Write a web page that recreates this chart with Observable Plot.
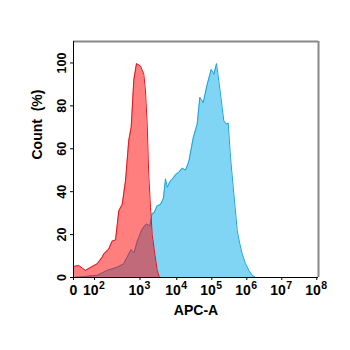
<!DOCTYPE html>
<html><head><meta charset="utf-8">
<script src="https://cdn.jsdelivr.net/npm/d3@7"></script>
<script src="https://cdn.jsdelivr.net/npm/@observablehq/plot@0.6"></script>
<style>body{margin:0;background:#fff;}</style>
</head><body><div id="chart"></div>
<script>
// Control (red) histogram: APC-A intensity vs Count (%)
const redX = [0, 25, 57, 81, 115, 148, 160, 206, 245, 290, 342, 406, 480, 567, 641, 731, 838, 1030, 1270, 1410, 1570, 1730, 1930, 2150, 2530, 2940, 3400];
const redY = [5.1, 5.6, 3.3, 4.7, 6.4, 9.5, 11, 13.3, 17, 17.5, 31, 34, 45, 64, 70, 92, 99.7, 98.6, 94.7, 87, 71.5, 48, 32.7, 20, 11, 3.3, 0];
// Sample (blue) histogram
const blueX = [0, 57, 115, 190, 315, 440, 567, 640, 740, 873, 1150, 1500, 1850, 2150, 2380, 2940, 3610, 4360, 4940, 5500, 6080, 6760, 8320, 9250, 11500, 14300, 17800, 22100, 29500, 38400, 45600, 57000, 74200, 96400, 115000, 137000, 159000, 178000, 221000, 264000, 295000, 343000, 427000, 534000, 633000, 741000, 921000, 1150000, 1430000, 1780000];
const blueY = [0, 0.5, 1, 3.3, 4.8, 6.4, 11, 13, 11.5, 17, 22.6, 25, 24, 30, 30, 33.5, 34, 37, 46, 42, 43.6, 45, 46.7, 48, 49, 51, 50, 54, 65, 71.5, 84, 81.5, 90, 97, 94.7, 99.7, 91.6, 85.4, 73, 71.5, 72, 56, 39, 21.9, 15.7, 11, 6.4, 3.3, 1, 0];
// Axis ticks
const xTickValues = [0, 1e2, 1e3, 1e4, 1e5, 1e6, 1e7, 1e8];
const xZeroLabel = "0";
const xPowerValues = [1e2, 1e3, 1e4, 1e5, 1e6, 1e7, 1e8];
const xPowerBase = "10";
const xPowerExp = ["2", "3", "4", "5", "6", "7", "8"];
const xMax = 1.12e8;
const yTicks = [0, 20, 40, 60, 80, 100];
const yMax = 110;

// biexponential-like display: linear up to 100, then log decades
function displayPos(v) {
  if (v <= 100) return v / 100 * 0.6;
  if (v <= 1000) return 0.6 + Math.log10(v / 100) * 1.3;
  if (v <= 1e4) return 1.9 + Math.log10(v / 1000) * 1.05;
  return 2.95 + Math.log10(v / 1e4);
}

const red = redX.map((x, i) => ({x, y: redY[i]}));
const blue = blueX.map((x, i) => ({x, y: blueY[i]}));
const font = "Liberation Sans, Arial, sans-serif";

const plot = Plot.plot({
  width: 350, height: 350,
  marginLeft: 73, marginRight: 32, marginTop: 41, marginBottom: 73,
  style: {fontFamily: font, background: "#fff", overflow: "visible"},
  x: {type: "linear", transform: displayPos, domain: [0, displayPos(xMax)], axis: null},
  y: {type: "linear", domain: [0, yMax], axis: null},
  marks: [
    Plot.areaY(blue, {x: "x", y: "y", fill: "#80d4f4", curve: "linear"}),
    Plot.lineY(blue, {x: "x", y: "y", stroke: "#1ba3dc", strokeWidth: 1}),
    Plot.areaY(red, {x: "x", y: "y", fill: "#ff0000", fillOpacity: 0.5}),
    Plot.lineY(red, {x: "x", y: "y", stroke: "#e8121e", strokeWidth: 1}),
    Plot.ruleY([yMax], {stroke: "#888", strokeWidth: 2}),
    Plot.ruleX([xMax], {stroke: "#888", strokeWidth: 2}),
    Plot.ruleX([0], {stroke: "#000", strokeWidth: 1}),
    Plot.ruleY([0], {stroke: "#000", strokeWidth: 1}),
    // tick marks
    Plot.ruleX(xTickValues, {x: d => d, y1: 0, y2: 0, insetBottom: -3, stroke: "#000"}),
    Plot.ruleY(yTicks, {y: d => d, x1: 0, x2: 0, insetLeft: -3, stroke: "#000"}),
    // x tick labels
    Plot.text([0], {x: d => d, y: 0, text: () => xZeroLabel, textAnchor: "middle", dy: 8, lineAnchor: "top", fontSize: 14, fontWeight: "bold", fill: "#000"}),
    Plot.text(xPowerValues, {x: d => d, y: 0, text: () => xPowerBase, textAnchor: "end", dx: 4, dy: 8, lineAnchor: "top", fontSize: 14, fontWeight: "bold", fill: "#000"}),
    Plot.text(xPowerValues, {x: d => d, y: 0, text: (d, i) => xPowerExp[i], textAnchor: "start", dx: 4.5, dy: 4, lineAnchor: "top", fontSize: 10.5, fontWeight: "bold", fill: "#000"}),
    // y tick labels
    Plot.text(yTicks, {x: 0, y: d => d, text: d => String(d), rotate: -90, dx: -12, fontSize: 12.5, fontWeight: "bold", fill: "#000"}),
    // axis titles
    Plot.text(["Count  (%)"], {frameAnchor: "left", dx: -36, rotate: -90, fontSize: 14, fontWeight: "bold", fill: "#000"}),
    Plot.text(["APC-A"], {frameAnchor: "bottom", dy: 37, fontSize: 14, fontWeight: "bold", fill: "#000"})
  ]
});
document.getElementById("chart").appendChild(plot);
</script>
</body></html>
